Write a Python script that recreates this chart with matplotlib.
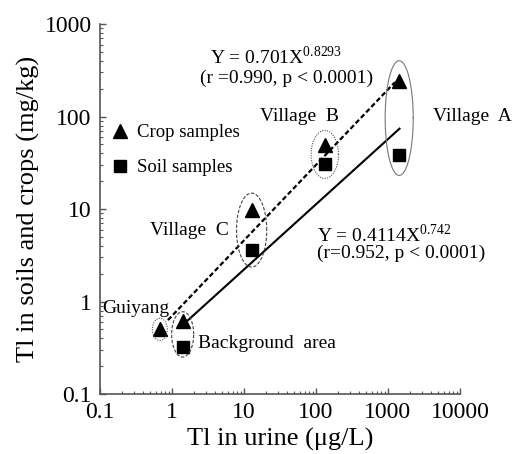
import numpy as np
import matplotlib
matplotlib.use("Agg")
import matplotlib.pyplot as plt
from matplotlib.lines import Line2D

plt.rcParams["font.family"] = ["Liberation Serif", "DejaVu Serif"]
plt.rcParams["mathtext.fontset"] = "custom"
plt.rcParams["mathtext.rm"] = "Liberation Serif"

# -----------------------
# Data
# -----------------------

groups = ["Guiyang", "Background area", "Village C", "Village B", "Village A"]

urine = [0.68, 1.41, 12.8, 133, 1435]          # Tl in urine (ug/L)
crop = [0.50, 0.61, 9.75, 49, 244]              # Tl in crops (mg/kg)
soil = [None, 0.32, 3.6, 31, 38]                # Tl in soils (mg/kg)

# fitted lines as drawn in the figure
fit_crop_x = [0.88, 1250]
fit_crop_y = [0.63, 235]
fit_soil_x = [1.42, 1450]
fit_soil_y = [0.56, 74]

# -----------------------
# Figure
# -----------------------

fig = plt.figure(figsize=(5.15, 4.54), dpi=100)
ax = fig.add_axes([0.194, 0.132, 0.699, 0.815])

ax.plot(fit_crop_x, fit_crop_y, color="black", lw=1.6, ls=(0, (2.2, 1.2)))
ax.plot(fit_soil_x, fit_soil_y, color="black", lw=1.5)

sx = [u for u, s in zip(urine, soil) if s is not None]
sy = [s for s in soil if s is not None]
ax.plot(urine, crop, "^", color="black", ms=9.5, ls="none")
ax.plot(sx, sy, "s", color="black", ms=8.5, ls="none")

# ellipses around the groups (drawn in log space)
ell_style = {
    "Guiyang": (0.104, 0.12, (0, (1, 1.2)), "#555555"),
    "Background area": (0.153, 0.245, (0, (3, 1.5)), "#444444"),
    "Village C": (0.21, 0.40, (0, (3, 1.5)), "#444444"),
    "Village B": (0.19, 0.26, (0, (1, 1.2)), "#555555"),
    "Village A": (0.195, 0.62, "-", "#777777"),
}
t = np.linspace(0, 2*np.pi, 200)
for g, u, c, s in zip(groups, urine, crop, soil):
    ys = [c] if s is None else [c, s]
    cx = np.log10(u)
    cy = np.mean(np.log10(ys))
    a, b, ls, col = ell_style[g]
    ax.plot(10**(cx + a*np.cos(t)), 10**(cy + b*np.sin(t)),
            color=col, lw=0.8, ls=ls)

ax.set_xscale("log")
ax.set_yscale("log")
ax.set_xlim(0.1, 10000)
ax.set_ylim(0.1, 1000)
ax.set_xticks([0.1, 1, 10, 100, 1000, 10000])
ax.set_xticklabels(["0.1", "1", "10", "100", "1000", "10000"])
ax.set_yticks([0.1, 1, 10, 100, 1000])
ax.set_yticklabels(["0.1", "1", "10", "100", "1000"])

for side in ["top", "right"]:
    ax.spines[side].set_visible(False)
for side in ["left", "bottom"]:
    ax.spines[side].set_color("#555555")
    ax.spines[side].set_linewidth(1.2)

ax.tick_params(which="major", direction="in", length=4, width=1,
               color="#555555", labelsize=17)
ax.tick_params(axis="x", which="major", pad=6)
ax.tick_params(axis="y", which="major", pad=6)
ax.tick_params(which="minor", direction="in", length=2.2, width=0.8,
               color="#555555")

ax.set_xlabel("Tl in urine (\u03bcg/L)", fontsize=19, labelpad=3)
ax.set_ylabel("Tl in soils and crops (mg/kg)", fontsize=19, labelpad=3)

# -----------------------
# Annotations
# -----------------------

fs = 14
ax.text(0.306, 0.911, r"Y = 0.701X$^{\mathrm{0.8293}}$", transform=ax.transAxes,
        fontsize=fs, va="center")
ax.text(0.278, 0.854, "(r =0.990, p < 0.0001)", transform=ax.transAxes,
        fontsize=fs, va="center")
ax.text(0.603, 0.430, r"Y = 0.4114X$^{\mathrm{0.742}}$", transform=ax.transAxes,
        fontsize=fs, va="center")
ax.text(0.603, 0.381, "(r=0.952, p < 0.0001)", transform=ax.transAxes,
        fontsize=fs, va="center")

ax.text(0.444, 0.749, "Village  B", transform=ax.transAxes, fontsize=fs, va="center")
ax.text(0.925, 0.749, "Village  A", transform=ax.transAxes, fontsize=fs, va="center",
        clip_on=False)
ax.text(0.139, 0.443, "Village  C", transform=ax.transAxes, fontsize=fs, va="center")
ax.text(0.006, 0.232, "Guiyang", transform=ax.transAxes, fontsize=fs, va="center")
ax.text(0.272, 0.138, "Background  area", transform=ax.transAxes, fontsize=fs,
        va="center")

handles = [
    Line2D([], [], marker="^", color="black", ls="none", ms=9.5),
    Line2D([], [], marker="s", color="black", ls="none", ms=8.5),
]
ax.legend(handles, ["Crop samples", "Soil samples"], loc="upper left",
          bbox_to_anchor=(0.01, 0.75), frameon=False, fontsize=13.5,
          handlelength=1.0, handletextpad=0.4, labelspacing=0.95,
          borderaxespad=0)

fig.savefig("out.png", dpi=100)
